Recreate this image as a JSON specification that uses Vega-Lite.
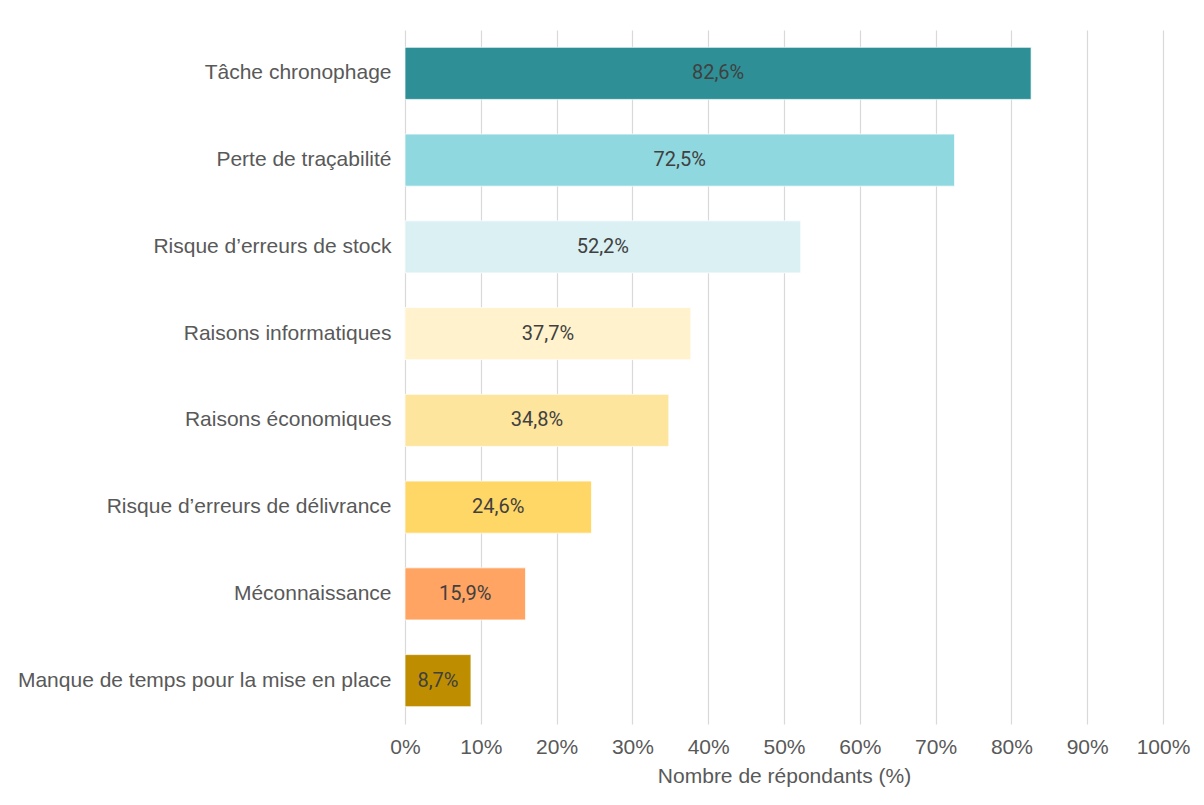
{
  "$schema": "https://vega.github.io/schema/vega-lite/v6.json",
  "width": 758,
  "height": 694,
  "autosize": "none",
  "padding": {"left": 405, "top": 30, "right": 41, "bottom": 81},
  "background": "#ffffff",
  "config": {
    "view": {"stroke": null},
    "locale": {"number": {"decimal": ",", "thousands": " ", "grouping": [3], "currency": ["", " €"]}},
    "font": "Liberation Sans"
  },
  "data": {
    "values": [
      {"cause": "Tâche chronophage", "v": 0.826},
      {"cause": "Perte de traçabilité", "v": 0.725},
      {"cause": "Risque d’erreurs de stock", "v": 0.522},
      {"cause": "Raisons informatiques", "v": 0.377},
      {"cause": "Raisons économiques", "v": 0.348},
      {"cause": "Risque d’erreurs de délivrance", "v": 0.246},
      {"cause": "Méconnaissance", "v": 0.159},
      {"cause": "Manque de temps pour la mise en place", "v": 0.087}
    ]
  },
  "encoding": {
    "y": {
      "field": "cause", "type": "nominal", "sort": null,
      "scale": {"paddingInner": 0.4, "paddingOuter": 0.2},
      "axis": {"title": null, "domain": false, "ticks": false, "labelPadding": 14, "labelFontSize": 21, "labelColor": "#595959", "labelFont": "Liberation Sans", "labelLimit": 400}
    }
  },
  "layer": [
    {
      "mark": {"type": "bar", "stroke": "#ffffff", "strokeWidth": 1, "strokeOpacity": 0.7},
      "encoding": {
        "x": {
          "field": "v", "type": "quantitative",
          "scale": {"domain": [0, 1], "nice": false},
          "axis": {"format": ".0%", "values": [0, 0.1, 0.2, 0.3, 0.4, 0.5, 0.6, 0.7, 0.8, 0.9, 1], "labelFlush": false, "title": "Nombre de répondants (%)", "titleFontSize": 21, "titleFontWeight": "normal", "titleColor": "#595959", "titleFont": "Liberation Sans", "titlePadding": 8, "labelFontSize": 21, "labelColor": "#595959", "labelFont": "Liberation Sans", "labelPadding": 12, "domain": false, "ticks": false, "grid": true, "gridColor": "#d9d9d9", "gridWidth": 1.2}
        },
        "color": {
          "field": "cause", "type": "nominal", "legend": null,
          "scale": {
            "domain": ["Tâche chronophage", "Perte de traçabilité", "Risque d’erreurs de stock", "Raisons informatiques", "Raisons économiques", "Risque d’erreurs de délivrance", "Méconnaissance", "Manque de temps pour la mise en place"],
            "range": ["#2E9096", "#90D8DF", "#DAF0F3", "#FFF2CC", "#FDE59E", "#FFD766", "#FFA463", "#BE8E00"]
          }
        }
      }
    },
    {
      "transform": [{"calculate": "datum.v / 2", "as": "mid"}],
      "mark": {"type": "text", "font": "Roboto", "fontSize": 20, "color": "#404040", "align": "center", "baseline": "middle"},
      "encoding": {
        "x": {"field": "mid", "type": "quantitative"},
        "text": {"field": "v", "type": "quantitative", "format": ".1%"}
      }
    }
  ]
}
